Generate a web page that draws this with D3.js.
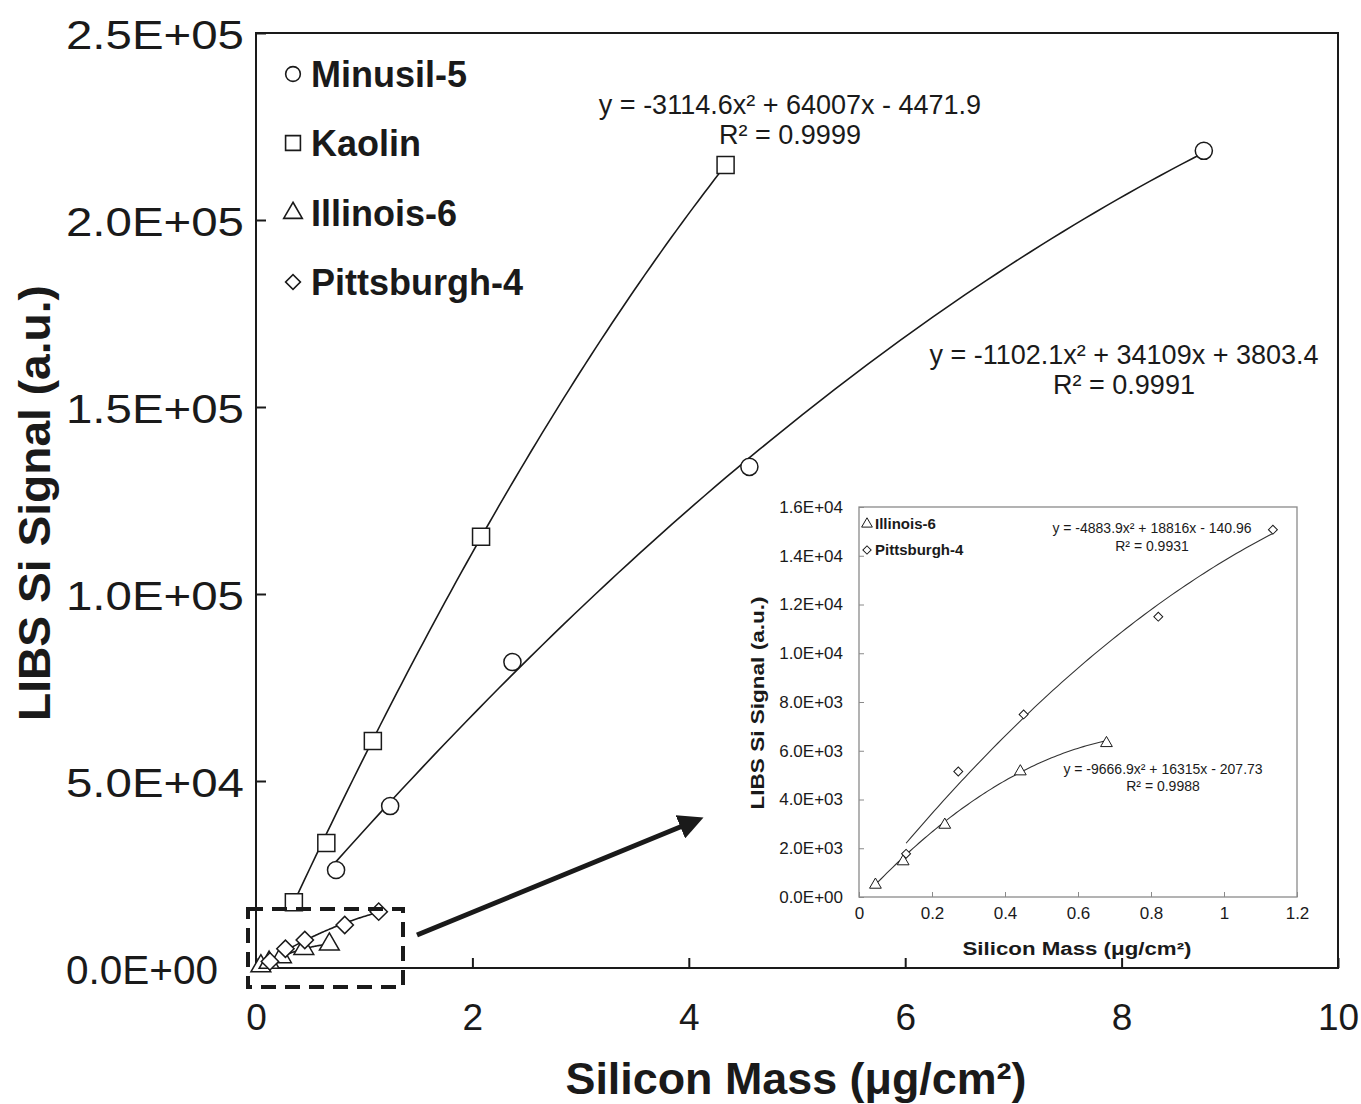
<!DOCTYPE html>
<html><head><meta charset="utf-8">
<script src="https://cdn.jsdelivr.net/npm/d3@7"></script>
<style>
html,body{margin:0;padding:0;background:#fff;}
text{font-family:"Liberation Sans",Arial,sans-serif;fill:#1a1a1a;}
</style></head>
<body>
<svg id="chart" width="1361" height="1104"></svg>
<script>
// ---- data ----
const minusilX = [0.74, 1.24, 2.37, 4.56, 8.76];
const minusilY = [26200, 43300, 81800, 134000, 218500];
const kaolinX = [0.35, 0.65, 1.08, 2.08, 4.34];
const kaolinY = [17600, 33400, 60700, 115300, 214700];
const illinoisX = [0.045, 0.121, 0.235, 0.442, 0.678];
const illinoisY = [500, 1460, 2960, 5150, 6310];
const pittsX = [0.129, 0.272, 0.451, 0.820, 1.134];
const pittsY = [1770, 5150, 7490, 11500, 15070];
// trendline coefficients [a, b, c]  (y = a x^2 + b x + c)
const minusilFit = [-1102.1, 34109, 3803.4];
const kaolinFit = [-3114.6, 64007, -4471.9];
const illinoisFit = [-9666.9, 16315, -207.73];
const pittsFit = [-4883.9, 18816, -140.96];
const seriesNames = ["Minusil-5", "Kaolin", "Illinois-6", "Pittsburgh-4"];
const mainXTicks = [0, 2, 4, 6, 8, 10];
const mainYTicks = [0, 50000, 100000, 150000, 200000, 250000];
const mainYTickLabels = ["0.0E+00", "5.0E+04", "1.0E+05", "1.5E+05", "2.0E+05", "2.5E+05"];
const insetXTicks = [0, 0.2, 0.4, 0.6, 0.8, 1, 1.2];
const insetYTicks = [0, 2000, 4000, 6000, 8000, 10000, 12000, 14000, 16000];
const insetYTickLabels = ["0.0E+00","2.0E+03","4.0E+03","6.0E+03","8.0E+03","1.0E+04","1.2E+04","1.4E+04","1.6E+04"];
const eqMinusil = ["y = -1102.1x² + 34109x + 3803.4", "R² = 0.9991"];
const eqKaolin = ["y = -3114.6x² + 64007x - 4471.9", "R² = 0.9999"];
const eqPitts = ["y = -4883.9x² + 18816x - 140.96", "R² = 0.9931"];
const eqIllinois = ["y = -9666.9x² + 16315x - 207.73", "R² = 0.9988"];

const svg = d3.select("#chart");
const ink = "#1a1a1a";

function poly(c){ return x => c[0]*x*x + c[1]*x + c[2]; }
function curvePts(fit, x0, x1){
  const f = poly(fit), n = 80, pts = [];
  for(let i=0;i<=n;i++){ const x = x0 + (x1-x0)*i/n; pts.push([x, f(x)]); }
  return pts;
}
const shapes = {
  circle: d3.symbolCircle, square: d3.symbolSquare,
  triangle: d3.symbolTriangle, diamond: d3.symbolSquare
};
function marker(g, type, cx, cy, size, sw){
  g.append("path")
    .attr("d", d3.symbol().type(shapes[type]).size(size)())
    .attr("transform", `translate(${cx},${cy})` + (type==="diamond" ? " rotate(45)" : ""))
    .attr("fill", "#fff").attr("stroke", ink).attr("stroke-width", sw);
}

// ---- main plot ----
const M = {l:256, r:1338, t:33, b:968};
const x = d3.scaleLinear().domain([0,10]).range([M.l, M.r]);
const y = d3.scaleLinear().domain([0,250000]).range([M.b, M.t]);

const main = svg.append("g");
main.append("rect").attr("x",M.l).attr("y",M.t).attr("width",M.r-M.l).attr("height",M.b-M.t)
  .attr("fill","none").attr("stroke",ink).attr("stroke-width",2);

// axes (inward ticks)
const xAxis = d3.axisBottom(x).tickValues(mainXTicks).tickSize(-10).tickPadding(24).tickFormat(d3.format("d"));
const gx = main.append("g").attr("transform",`translate(0,${M.b})`).call(xAxis);
gx.select(".domain").remove();
gx.selectAll("line").attr("stroke",ink).attr("stroke-width",2);
gx.selectAll("text").attr("font-size",37).attr("fill",ink).attr("dy","0.71em").attr("y",36);

const yAxis = d3.axisLeft(y).tickValues(mainYTicks).tickSize(-10).tickPadding(12)
  .tickFormat((d,i)=>mainYTickLabels[i]);
const gy = main.append("g").attr("transform",`translate(${M.l},0)`).call(yAxis);
gy.select(".domain").remove();
gy.selectAll("line").attr("stroke",ink).attr("stroke-width",2);
gy.selectAll("text").attr("font-size",40).attr("fill","#262626")
  .attr("text-anchor","start").attr("x",66-M.l).attr("dy","0.38em")
  .attr("textLength",(d,i)=> i===0 ? 152 : 178).attr("lengthAdjust","spacingAndGlyphs");

// axis titles
svg.append("text").attr("x",796).attr("y",1094).attr("text-anchor","middle")
  .attr("font-size",44).attr("font-weight","bold")
  .attr("textLength",461).attr("lengthAdjust","spacingAndGlyphs")
  .text("Silicon Mass (μg/cm²)");
svg.append("text").attr("transform","translate(50,503) rotate(-90)").attr("text-anchor","middle")
  .attr("font-size",45).attr("font-weight","bold")
  .attr("textLength",436).attr("lengthAdjust","spacingAndGlyphs")
  .text("LIBS Si Signal (a.u.)");

const line = d3.line().x(d=>x(d[0])).y(d=>y(d[1]));
const mainSeries = [
  {xs:minusilX, ys:minusilY, fit:minusilFit, type:"circle", size:230},
  {xs:kaolinX, ys:kaolinY, fit:kaolinFit, type:"square", size:290},
  {xs:illinoisX, ys:illinoisY, fit:illinoisFit, type:"triangle", size:170},
  {xs:pittsX, ys:pittsY, fit:pittsFit, type:"diamond", size:150}
];
mainSeries.forEach(s=>{
  main.append("path").attr("d", line(curvePts(s.fit, s.xs[0], s.xs[s.xs.length-1])))
    .attr("fill","none").attr("stroke",ink).attr("stroke-width",1.6);
});
mainSeries.forEach(s=>{
  s.xs.forEach((xv,i)=> marker(main, s.type, x(xv), y(s.ys[i]), s.size, 1.5));
});

// legend
const legTypes = ["circle","square","triangle","diamond"];
const legSizes = [170, 220, 150, 110];
const legY = [74, 143, 213, 282];
seriesNames.forEach((n,i)=>{
  marker(main, legTypes[i], 293, legY[i], legSizes[i], 1.6);
  main.append("text").attr("x",311).attr("y",legY[i]).attr("dy","0.36em")
    .attr("font-size",36).attr("font-weight","bold").text(n);
});

// equations main
function eq(g, lines, cx, y0, y1, fs){
  g.append("text").attr("x",cx).attr("y",y0).attr("text-anchor","middle").attr("dy","0.36em")
    .attr("font-size",fs).text(lines[0]);
  g.append("text").attr("x",cx).attr("y",y1).attr("text-anchor","middle").attr("dy","0.36em")
    .attr("font-size",fs).text(lines[1]);
}
eq(main, eqKaolin, 790, 104, 134, 27);
eq(main, eqMinusil, 1124, 354, 384, 27);

// dashed box + arrow
svg.append("rect").attr("x",248).attr("y",909).attr("width",155).attr("height",78)
  .attr("fill","none").attr("stroke",ink).attr("stroke-width",4).attr("stroke-dasharray","15,9");
svg.append("defs").append("marker").attr("id","ah").attr("viewBox","0 0 10 10")
  .attr("refX",2).attr("refY",5).attr("markerWidth",5).attr("markerHeight",5).attr("orient","auto")
  .append("path").attr("d","M0,0 L10,5 L0,10 Z").attr("fill",ink);
svg.append("line").attr("x1",417).attr("y1",935).attr("x2",685).attr("y2",825)
  .attr("stroke",ink).attr("stroke-width",5).attr("marker-end","url(#ah)");

// ---- inset ----
const I = {l:859, r:1297, t:507, b:897};
const xi = d3.scaleLinear().domain([0,1.2]).range([I.l, I.r]);
const yi = d3.scaleLinear().domain([0,16000]).range([I.b, I.t]);
const inset = svg.append("g");
inset.append("rect").attr("x",I.l).attr("y",I.t).attr("width",I.r-I.l).attr("height",I.b-I.t)
  .attr("fill","#fff").attr("stroke","#8a8a8a").attr("stroke-width",1.3);
const gxi = inset.append("g").attr("transform",`translate(0,${I.b})`)
  .call(d3.axisBottom(xi).tickValues(insetXTicks).tickSize(-5).tickPadding(10).tickFormat(d3.format("")));
gxi.select(".domain").remove();
gxi.selectAll("line").attr("stroke","#8a8a8a");
gxi.selectAll("text").attr("font-size",17).attr("fill","#2a2a2a");
const gyi = inset.append("g").attr("transform",`translate(${I.l},0)`)
  .call(d3.axisLeft(yi).tickValues(insetYTicks).tickSize(-5).tickPadding(11).tickFormat((d,i)=>insetYTickLabels[i]));
gyi.select(".domain").remove();
gyi.selectAll("line").attr("stroke","#8a8a8a");
gyi.selectAll("text").attr("font-size",17).attr("fill","#2a2a2a").attr("x",-16);

inset.append("text").attr("x",1077).attr("y",955).attr("text-anchor","middle")
  .attr("font-size",18).attr("font-weight","bold").attr("textLength",229).attr("lengthAdjust","spacingAndGlyphs")
  .text("Silicon Mass (μg/cm²)");
inset.append("text").attr("transform","translate(764,703) rotate(-90)").attr("text-anchor","middle")
  .attr("font-size",19).attr("font-weight","bold").attr("textLength",213).attr("lengthAdjust","spacingAndGlyphs")
  .text("LIBS Si Signal (a.u.)");

const linei = d3.line().x(d=>xi(d[0])).y(d=>yi(d[1]));
const insetSeries = [
  {xs:illinoisX, ys:illinoisY, fit:illinoisFit, type:"triangle", size:60},
  {xs:pittsX, ys:pittsY, fit:pittsFit, type:"diamond", size:40}
];
insetSeries.forEach(s=>{
  inset.append("path").attr("d", linei(curvePts(s.fit, s.xs[0], s.xs[s.xs.length-1])))
    .attr("fill","none").attr("stroke","#333").attr("stroke-width",1.1);
  s.xs.forEach((xv,i)=> marker(inset, s.type, xi(xv), yi(s.ys[i]), s.size, 1));
});
// inset legend
[["triangle",524,seriesNames[2],50],["diamond",550,seriesNames[3],34]].forEach(d=>{
  marker(inset, d[0], 867, d[1], d[3], 1);
  inset.append("text").attr("x",875).attr("y",d[1]).attr("dy","0.36em")
    .attr("font-size",15).attr("font-weight","bold").text(d[2]);
});
eq(inset, eqPitts, 1152, 528, 546, 14);
eq(inset, eqIllinois, 1163, 769, 786, 14);
</script>
</body></html>
